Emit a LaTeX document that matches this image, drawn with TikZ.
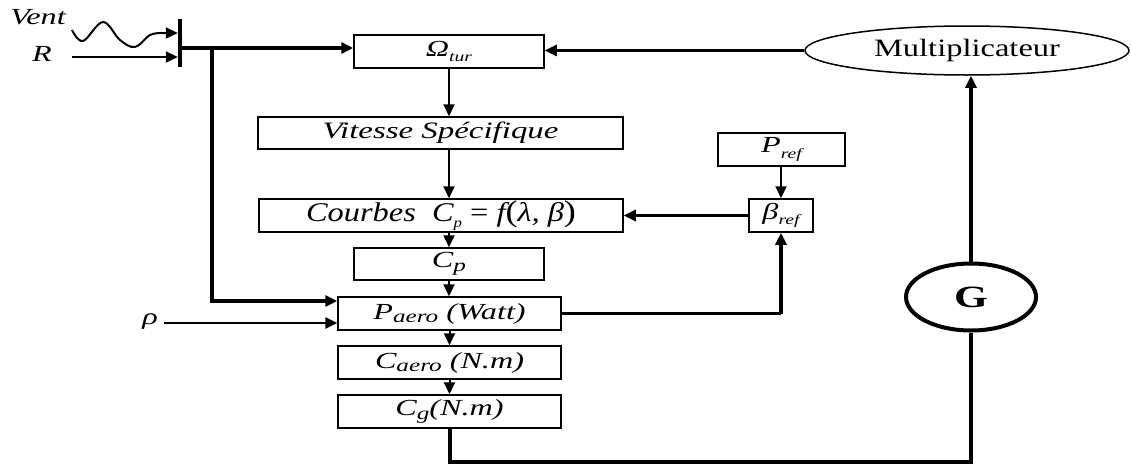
\documentclass[tikz,border=0pt]{standalone}
\usepackage{fontspec}
\setmainfont{Liberation Serif}[FakeStretch=1.4]
\newfontfamily\multfont{Liberation Serif}[FakeStretch=1.3]
\newfontfamily\eqfont{Liberation Serif}[FakeStretch=1.2]
\usetikzlibrary{arrows.meta,shapes.geometric}
\newcommand\lsub[1]{\raisebox{-0.5ex}{\fontsize{14}{14}\selectfont #1}}
\newcommand\bsub[1]{\raisebox{-0.35ex}{\fontsize{18}{18}\selectfont #1}}
\newcommand\bigpar[1]{{\fontsize{30}{30}\selectfont\upshape #1}}
\tikzset{
  blk/.style={draw, line width=1.5pt, inner sep=0pt, anchor=center,
    font=\fontsize{23}{25}\selectfont\itshape},
  lbl/.style={inner sep=0pt, font=\fontsize{23}{25}\selectfont\itshape},
  arr/.style={-{Triangle[length=12pt,width=11pt]}},
  thin/.style={line width=2pt},
  mid/.style={line width=2.6pt},
  heavy/.style={line width=4pt},
}
\begin{document}
\begin{tikzpicture}[x=1pt,y=-1pt]
\useasboundingbox (0,0) rectangle (1131,463);
% boxes
\node[blk, minimum width=190, minimum height=33] (om) at (449,51.5) {Ω\lsub{tur}};
\node[blk, minimum width=365, minimum height=32, font=\fontsize{23.5}{25}\selectfont\itshape] (vit) at (440.5,133) {Vitesse Spécifique};
\node[blk, minimum width=364, minimum height=33, font=\fontsize{27}{29}\eqfont\itshape] (crb) at (441,215.5)
  {Courbes\ \ C\lsub{p} \textup{=} f\bigpar{(}λ, β\bigpar{)}};
\node[blk, minimum width=190, minimum height=32] (cp) at (449,264) {C\bsub{p}};
\node[blk, minimum width=223, minimum height=33] (pa) at (449.5,313.5) {P\bsub{aero} (Watt)};
\node[blk, minimum width=223, minimum height=33] (ca) at (449.5,362.5) {C\bsub{aero} (N.m)};
\node[blk, minimum width=223, minimum height=33] (cg) at (449.5,411.5) {C\bsub{g}(N.m)};
\node[blk, minimum width=127, minimum height=33] (pref) at (781.5,149.5) {P\lsub{ref}};
\node[blk, minimum width=64, minimum height=33] (bref) at (781,215.5) {β\lsub{ref}};
\node[draw, ellipse, line width=1.5pt, inner sep=0pt, minimum width=324, minimum height=49,
  font=\fontsize{25}{27}\multfont] (mult) at (967,50.5) {Multiplicateur};
\node[draw, ellipse, line width=4pt, inner sep=0pt, minimum width=130, minimum height=67,
  font=\fontsize{31}{33}\selectfont\bfseries] (G) at (971,297) {G};
% inputs
\node[lbl] (vent) at (38,17) {Vent};
\node[lbl] (R) at (42,54) {R};
\node[lbl] (rho) at (150,322) {ρ};
\node[fill, inner sep=0pt, minimum width=4, minimum height=48] (bar) at (180,43) {};
\coordinate (br) at (212,48);
% wind wave
\draw[thin, arr] plot[smooth, tension=0.6] coordinates {(72,30) (83,41) (103,22) (120,40) (135,47) (150,35) (162,33)} -- (bar.west |- 0,33);
\draw[thin, arr] (R.east) ++(20,3) -- (bar.west |- 0,57);
\draw[heavy, arr] (bar.east |- 0,48) -- (om.west |- 0,48);
\draw[heavy, arr] (br) |- ([yshift=12.5pt]pa.west);
\draw[mid, arr] (rho.east) ++(6,1) -- ([yshift=-9.5pt]pa.west);
% main chain
\draw[thin, arr] (om.south) -- (om.south |- vit.north);
\draw[thin, arr] (om.south |- vit.south) -- (om.south |- crb.north);
\draw[thin, arr] (cp.north |- crb.south) -- (cp.north);
\draw[thin, arr] (cp.south) -- (cp.south |- pa.north);
\draw[thin, arr] (pa.south) -- (ca.north);
\draw[thin, arr] (ca.south) -- (cg.north);
% pitch loop
\draw[thin, arr] (pref.south -| bref.north) -- (bref.north);
\draw[mid, arr] (bref.west) -- (crb.east);
\draw[mid] (pa.east) -- (pa.east -| bref.south);
\draw[heavy, arr] (pa.east -| bref.south) -- (bref.south);
% mechanical loop
\draw[mid, arr] (mult.west) -- (om.east |- mult.west);
\draw[heavy, arr] (G.north) -- (G.north |- mult.south);
\draw[heavy] (cg.south) -- ++(0,33) -| (G.south);
\end{tikzpicture}
\end{document}
